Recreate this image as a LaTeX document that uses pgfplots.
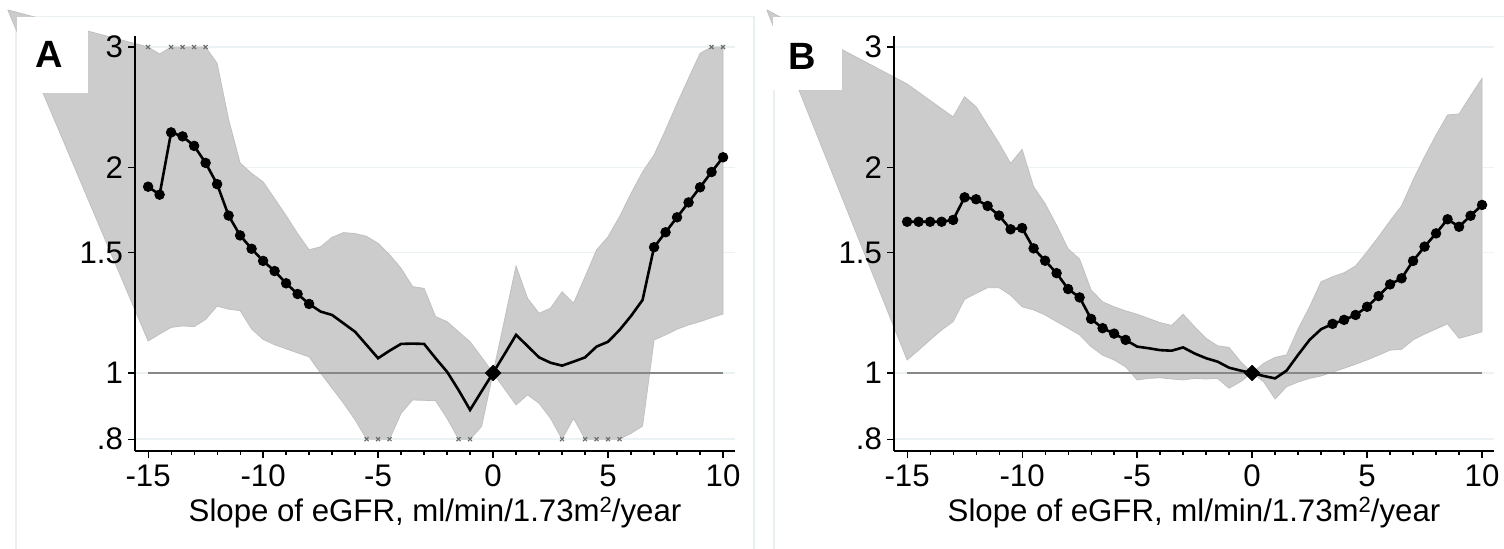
\documentclass[border=0pt]{standalone}
\usepackage{fontspec}
\setmainfont{Liberation Sans}
\usepackage{pgfplots}
\usepackage{pgfplotstable}
\pgfplotsset{compat=1.18}
\definecolor{framecol}{RGB}{232,240,242}
\definecolor{gridcol}{RGB}{234,242,243}
\definecolor{bandcol}{RGB}{204,204,204}
\definecolor{bandedge}{RGB}{192,192,192}
\definecolor{refcol}{RGB}{136,136,136}
\definecolor{xmcol}{RGB}{110,110,110}
\newcommand{\sqtwo}{\raisebox{4.6pt}{\fontsize{11}{11}\selectfont 2}}

% ---------- Panel A ----------
\pgfplotstableread{
x y
-15 1.874
-14.5 1.824
-14 2.25
-13.5 2.22
-13 2.15
-12.5 2.03
-12 1.89
-11.5 1.70
-11 1.59
-10.5 1.52
-10 1.459
-9.5 1.41
-9 1.353
-8.5 1.305
-8 1.262
-7.5 1.23
-7 1.216
-6.5 1.182
-6 1.149
-5.5 1.099
-5 1.051
-4.5 1.078
-4 1.103
-3.5 1.104
-3 1.103
-2.5 1.051
-2 1.004
-1.5 0.944
-1 0.883
-0.5 0.94
0 1.0
0.5 1.066
1 1.137
1.5 1.095
2 1.054
2.5 1.035
3 1.025
3.5 1.039
4 1.054
4.5 1.093
5 1.111
5.5 1.156
6 1.212
6.5 1.279
7 1.528
7.5 1.607
8 1.69
8.5 1.777
9 1.87
9.5 1.969
10 2.069
}\lineA

\pgfplotstableread{
x y
-15 1.874
-14.5 1.824
-14 2.25
-13.5 2.22
-13 2.15
-12.5 2.03
-12 1.89
-11.5 1.70
-11 1.59
-10.5 1.52
-10 1.459
-9.5 1.41
-9 1.353
-8.5 1.305
-8 1.262
7 1.528
7.5 1.607
8 1.69
8.5 1.777
9 1.87
9.5 1.969
10 2.069
}\markA

\pgfplotstableread{
x y
-21.1 3.40
-15 3.0
-14.5 2.93
-14 3.0
-13.5 3.0
-13 3.0
-12.5 3.0
-12 2.84
-11.5 2.35
-11 2.03
-10.5 1.96
-10 1.905
-9.5 1.80
-9 1.70
-8.5 1.60
-8 1.515
-7.5 1.53
-7 1.58
-6.5 1.605
-6 1.60
-5.5 1.585
-5 1.548
-4.5 1.49
-4 1.423
-3.5 1.338
-3 1.33
-2.5 1.209
-2 1.189
-1.5 1.149
-1 1.111
-0.5 1.055
0 1.0
1 1.434
1.5 1.286
2 1.223
2.5 1.244
3 1.315
3.5 1.265
4 1.383
4.5 1.514
5 1.583
5.5 1.694
6 1.832
6.5 1.97
7 2.085
7.5 2.268
8 2.48
8.5 2.70
9 2.937
9.5 3.0
10 3.0
10 1.22
9.5 1.205
9 1.189
8.5 1.176
8 1.159
7.5 1.137
7 1.118
6.5 0.836
6 0.816
5.5 0.8
5 0.8
4.5 0.8
4 0.8
3.5 0.858
3 0.8
2.5 0.858
2 0.903
1.5 0.929
1 0.898
0 1.0
-0.5 0.835
-1 0.8
-1.5 0.8
-2 0.858
-2.5 0.911
-3 0.912
-3.5 0.913
-4 0.873
-4.5 0.8
-5 0.8
-5.5 0.8
-6 0.854
-6.5 0.903
-7 0.95
-7.5 1.0
-8 1.056
-8.5 1.07
-9 1.085
-9.5 1.10
-10 1.12
-10.5 1.16
-11 1.234
-11.5 1.24
-12 1.253
-12.5 1.198
-13 1.169
-13.5 1.172
-14 1.166
-14.5 1.14
-15 1.114
-21.1 3.40
}\bandA

\pgfplotstableread{
x y
-15 3
-14 3
-13.5 3
-13 3
-12.5 3
9.5 3
10 3
-5.5 0.8
-5 0.8
-4.5 0.8
-1.5 0.8
-1 0.8
3 0.8
4 0.8
4.5 0.8
5 0.8
5.5 0.8
}\xmA

% ---------- Panel B ----------
\pgfplotstableread{
x y
-15 1.665
-14.5 1.665
-14 1.665
-13.5 1.665
-13 1.675
-12.5 1.808
-12 1.796
-11.5 1.756
-11 1.70
-10.5 1.623
-10 1.63
-9.5 1.522
-9 1.46
-8.5 1.40
-8 1.327
-7.5 1.29
-7 1.20
-6.5 1.163
-6 1.142
-5.5 1.118
-5 1.093
-4.5 1.087
-4 1.08
-3.5 1.078
-3 1.09
-2.5 1.068
-2 1.051
-1.5 1.039
-1 1.018
-0.5 1.008
0 1.0
0.5 0.99
1 0.982
1.5 1.008
2 1.063
2.5 1.118
3 1.159
3.5 1.18
4 1.196
4.5 1.216
5 1.25
5.5 1.296
6 1.348
6.5 1.376
7 1.459
7.5 1.531
8 1.601
8.5 1.679
9 1.637
9.5 1.699
10 1.762
}\lineB

\pgfplotstableread{
x y
-15 1.665
-14.5 1.665
-14 1.665
-13.5 1.665
-13 1.675
-12.5 1.808
-12 1.796
-11.5 1.756
-11 1.70
-10.5 1.623
-10 1.63
-9.5 1.522
-9 1.46
-8.5 1.40
-8 1.327
-7.5 1.29
-7 1.20
-6.5 1.163
-6 1.142
-5.5 1.118
3.5 1.18
4 1.196
4.5 1.216
5 1.25
5.5 1.296
6 1.348
6.5 1.376
7 1.459
7.5 1.531
8 1.601
8.5 1.679
9 1.637
9.5 1.699
10 1.762
}\markB

\pgfplotstableread{
x y
-21.1 3.40
-15 2.649
-13 2.37
-12.5 2.537
-12 2.453
-11 2.169
-10.5 2.027
-10 2.125
-9.5 1.874
-9 1.77
-8.5 1.645
-8 1.52
-7.5 1.468
-7 1.323
-6.5 1.271
-6 1.25
-5.5 1.233
-5 1.219
-4 1.185
-3.5 1.174
-3 1.219
-2.5 1.169
-2 1.124
-1.5 1.096
-1 1.09
-0.5 1.039
0 1.0
0.5 1.033
1 1.054
1.5 1.063
2 1.16
2.5 1.25
3 1.36
3.5 1.383
4 1.402
4.5 1.434
5 1.505
5.5 1.583
6 1.67
6.5 1.756
7 1.916
7.5 2.073
8 2.23
8.5 2.386
9 2.394
9.5 2.545
10 2.70
10 1.149
9.5 1.136
9 1.124
8.5 1.18
8 1.16
7.5 1.14
7 1.118
6.5 1.083
6 1.08
5.5 1.062
5 1.045
4.5 1.03
4 1.016
3.5 1.003
3 0.99
2.5 0.982
2 0.97
1.5 0.955
1 0.916
0.5 0.971
0 1.0
-0.5 0.971
-1 0.95
-1.5 0.982
-2 0.98
-2.5 0.982
-3 0.977
-3.5 0.98
-4 0.984
-4.5 0.982
-5 0.977
-5.5 1.021
-6 1.045
-6.5 1.062
-7 1.093
-7.5 1.137
-8 1.163
-8.5 1.189
-9 1.216
-9.5 1.237
-10 1.25
-10.5 1.30
-11 1.333
-11.5 1.333
-12 1.308
-12.5 1.282
-13 1.189
-13.5 1.156
-14 1.118
-14.5 1.08
-15 1.045
-21.1 3.40
}\bandB

\begin{document}
\begin{tikzpicture}[font=\fontsize{15.6}{18}\selectfont]
\useasboundingbox (0,0) rectangle (752pt,274.5pt);
\draw[framecol, line width=0.8pt] (8pt,-10pt) -- (8pt,266.2pt) -- (377pt,266.2pt) -- (377pt,-10pt);
\draw[framecol, line width=0.8pt] (387pt,-10pt) -- (387pt,266.2pt) -- (760pt,266.2pt);

\begin{axis}[at={(67.5pt,49pt)}, anchor=south west,
    ymode=log,
    scale only axis, width=300pt, height=207.5pt,
    xmin=-15.57, xmax=10.52, ymin=0.7689, ymax=3.114,
    axis x line*=bottom, axis y line*=left,
    xtick={-15,-10,-5,0,5,10}, xticklabels={-15,-10,-5,0,5,10},
    minor x tick num=4,
    ytick={0.8,1,1.5,2,3}, yticklabels={.8,1,1.5,2,3},
    tick align=outside, major tick length=3.3pt, minor tick length=2pt,
    tick style={black, line width=0.6pt},
    axis line style={black, line width=0.65pt},
    axis on top, clip=false,
    xticklabel style={anchor=base, inner sep=0pt, yshift=-14.5pt},
    yticklabel style={anchor=east, inner sep=0pt, xshift=-2.5pt},
    xlabel={Slope of eGFR, ml/min/1.73m\sqtwo/year},
    xlabel style={at={(axis description cs:0.5,0)}, anchor=base, inner sep=0pt, yshift=-35.5pt}]
  \addplot[gridcol, line width=0.7pt] coordinates {(-15.57,0.8) (10.52,0.8)};
  \addplot[gridcol, line width=0.7pt] coordinates {(-15.57,1) (10.52,1)};
  \addplot[gridcol, line width=0.7pt] coordinates {(-15.57,1.5) (10.52,1.5)};
  \addplot[gridcol, line width=0.7pt] coordinates {(-15.57,2) (10.52,2)};
  \addplot[gridcol, line width=0.7pt] coordinates {(-15.57,3) (10.52,3)};
  \addplot[fill=bandcol, draw=bandedge, line width=0.4pt] table[x=x,y=y] {\bandA};
  \addplot[refcol, line width=0.8pt] coordinates {(-15,1) (10,1)};
  \addplot[only marks, mark=x, mark size=1.4pt, xmcol, line width=0.6pt] table[x=x,y=y] {\xmA};
  \addplot[black, line width=1.3pt, no marks] table[x=x,y=y] {\lineA};
  \addplot[only marks, mark=*, mark size=2.4pt, black] table[x=x,y=y] {\markA};
  \addplot[only marks, mark=square*, mark size=2.7pt, mark options={rotate=45}, black] coordinates {(0,1)};
\end{axis}

\begin{axis}[at={(447pt,49pt)}, anchor=south west,
    ymode=log,
    scale only axis, width=300pt, height=207.5pt,
    xmin=-15.57, xmax=10.52, ymin=0.7689, ymax=3.114,
    axis x line*=bottom, axis y line*=left,
    xtick={-15,-10,-5,0,5,10}, xticklabels={-15,-10,-5,0,5,10},
    minor x tick num=4,
    ytick={0.8,1,1.5,2,3}, yticklabels={.8,1,1.5,2,3},
    tick align=outside, major tick length=3.3pt, minor tick length=2pt,
    tick style={black, line width=0.6pt},
    axis line style={black, line width=0.65pt},
    axis on top, clip=false,
    xticklabel style={anchor=base, inner sep=0pt, yshift=-14.5pt},
    yticklabel style={anchor=east, inner sep=0pt, xshift=-2.5pt},
    xlabel={Slope of eGFR, ml/min/1.73m\sqtwo/year},
    xlabel style={at={(axis description cs:0.5,0)}, anchor=base, inner sep=0pt, yshift=-35.5pt}]
  \addplot[gridcol, line width=0.7pt] coordinates {(-15.57,0.8) (10.52,0.8)};
  \addplot[gridcol, line width=0.7pt] coordinates {(-15.57,1) (10.52,1)};
  \addplot[gridcol, line width=0.7pt] coordinates {(-15.57,1.5) (10.52,1.5)};
  \addplot[gridcol, line width=0.7pt] coordinates {(-15.57,2) (10.52,2)};
  \addplot[gridcol, line width=0.7pt] coordinates {(-15.57,3) (10.52,3)};
  \addplot[fill=bandcol, draw=bandedge, line width=0.4pt] table[x=x,y=y] {\bandB};
  \addplot[refcol, line width=0.8pt] coordinates {(-15,1) (10,1)};
  \addplot[black, line width=1.3pt, no marks] table[x=x,y=y] {\lineB};
  \addplot[only marks, mark=*, mark size=2.4pt, black] table[x=x,y=y] {\markB};
  \addplot[only marks, mark=square*, mark size=2.7pt, mark options={rotate=45}, black] coordinates {(0,1)};
\end{axis}

\fill[white] (8.5pt,228pt) rectangle (44pt,265.8pt);
\node[font=\bfseries\fontsize{19}{20}\selectfont, inner sep=0pt] at (24.5pt,247.5pt) {A};
\fill[white] (386.5pt,229.5pt) rectangle (421pt,265.8pt);
\node[font=\bfseries\fontsize{19}{20}\selectfont, inner sep=0pt] at (401.2pt,246.2pt) {B};
\end{tikzpicture}
\end{document}
